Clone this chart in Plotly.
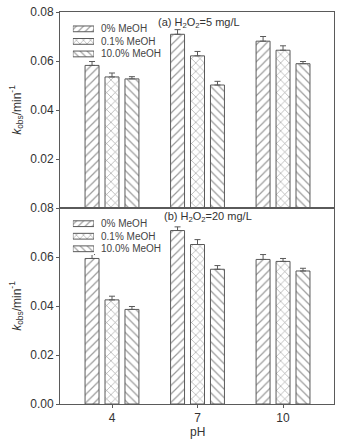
import plotly.graph_objects as go
from plotly.subplots import make_subplots

ph_labels = ["4", "7", "10"]
series_names = ["0% MeOH", "0.1% MeOH", "10.0% MeOH"]
patterns = ["/", "x", "\\"]

# Panel (a) H2O2 = 5 mg/L
a_vals = [[0.0582, 0.0709, 0.0681],
          [0.0535, 0.0621, 0.0644],
          [0.0527, 0.0502, 0.0589]]
a_errs = [[0.0016, 0.0019, 0.0019],
          [0.0016, 0.0018, 0.0018],
          [0.0009, 0.0015, 0.0009]]

# Panel (b) H2O2 = 20 mg/L
b_vals = [[0.0594, 0.0708, 0.0590],
          [0.0425, 0.0651, 0.0582],
          [0.0386, 0.0550, 0.0543]]
b_errs = [[0.0016, 0.0015, 0.0020],
          [0.0015, 0.0020, 0.0012],
          [0.0012, 0.0015, 0.0011]]

yticks_top = [0.02, 0.04, 0.06, 0.08]
yticks_bottom = [0.00, 0.02, 0.04, 0.06, 0.08]

LINE = "#5a5a5a"
HATCH = "#383838"
TEXT = "#333333"
FONT = "Liberation Sans, Arial, sans-serif"

fig = make_subplots(rows=2, cols=1, shared_xaxes=True, vertical_spacing=0)

x_idx = list(range(len(ph_labels)))

for row, vals, errs in [(1, a_vals, a_errs), (2, b_vals, b_errs)]:
    for i, name in enumerate(series_names):
        fig.add_trace(go.Bar(
            x=x_idx, y=vals[i], name=name, showlegend=False,
            marker=dict(color="white",
                        line=dict(color=LINE, width=1),
                        pattern=dict(shape=patterns[i], fgcolor=HATCH, bgcolor="white",
                                     size=6, solidity=0.2)),
            error_y=dict(type="data", symmetric=False, array=errs[i],
                         arrayminus=[0] * len(errs[i]), color=LINE, thickness=1, width=3),
        ), row=row, col=1)

# Custom compact legends: one small horizontal swatch bar per series, per panel
legend_axes_ids = [("x3", "y3"), ("x4", "y4")]
for xa, ya in legend_axes_ids:
    for i, name in enumerate(series_names):
        fig.add_trace(go.Bar(
            x=[1], y=[name], orientation="h", xaxis=xa, yaxis=ya,
            showlegend=False, hoverinfo="skip", width=0.46,
            marker=dict(color="white", line=dict(color=LINE, width=1),
                        pattern=dict(shape=patterns[i], fgcolor=HATCH, bgcolor="white",
                                     size=5, solidity=0.22)),
        ))

sw_x = [0.047, 0.124]
sw_doms = [[0.877, 0.973], [0.380, 0.476]]

layout_extra = {}
annotations = []
for (xa, ya), dom in zip(legend_axes_ids, sw_doms):
    xn, yn = "xaxis" + xa[1:], "yaxis" + ya[1:]
    layout_extra[xn] = dict(domain=sw_x, anchor=ya, range=[0, 1], visible=False, fixedrange=True)
    layout_extra[yn] = dict(domain=dom, anchor=xa, range=[2.5, -0.5], type="category",
                            categoryorder="array", categoryarray=series_names,
                            visible=False, fixedrange=True)
    for name in series_names:
        annotations.append(dict(text=name, xref="paper", yref=ya, x=0.142, y=name,
                                xanchor="left", yanchor="middle", showarrow=False,
                                font=dict(size=10, color="#444444")))

annotations += [
    dict(text="(a) H<sub>2</sub>O<sub>2</sub>=5 mg/L", xref="paper", yref="paper",
         x=0.507, y=0.972, xanchor="center", yanchor="middle",
         showarrow=False, font=dict(size=11, color=TEXT)),
    dict(text="(b) H<sub>2</sub>O<sub>2</sub>=20 mg/L", xref="paper", yref="paper",
         x=0.54, y=0.476, xanchor="center", yanchor="middle",
         showarrow=False, font=dict(size=11, color=TEXT)),
    dict(text="pH", xref="paper", yref="paper", x=0.5, y=-0.072,
         xanchor="center", yanchor="middle", showarrow=False,
         font=dict(size=12, color=TEXT)),
]

fig.update_layout(
    width=344, height=441,
    margin=dict(l=60, r=10, t=12, b=37, autoexpand=False),
    paper_bgcolor="white", plot_bgcolor="white",
    barmode="group", bargap=0.3, bargroupgap=0.3,
    font=dict(family=FONT, size=12, color=TEXT),
    showlegend=False,
    annotations=annotations,
    **layout_extra,
)

for r, yt in ((1, yticks_top), (2, yticks_bottom)):
    fig.update_xaxes(range=[-0.608, 2.596], tickvals=x_idx, ticktext=ph_labels,
                     showline=True, linecolor=LINE, linewidth=1, mirror=True,
                     ticks="outside", ticklen=3, tickcolor=LINE, automargin=False,
                     showgrid=False, zeroline=False, row=r, col=1)
    fig.update_yaxes(range=[0, 0.08], tickvals=yt,
                     ticktext=[f"{v:.2f}" for v in yt],
                     showline=True, linecolor=LINE, linewidth=1, mirror=True,
                     ticks="outside", ticklen=3, tickcolor=LINE, automargin=False,
                     showgrid=False, zeroline=False,
                     title=dict(text="<i>k</i><sub>obs</sub>/min<sup>-1</sup>",
                                font=dict(size=12), standoff=6),
                     row=r, col=1)

fig.update_xaxes(showticklabels=False, ticks="", row=1, col=1)

fig.write_html("out.html", config={"displayModeBar": False},
               post_script="document.body.style.margin='0';")
